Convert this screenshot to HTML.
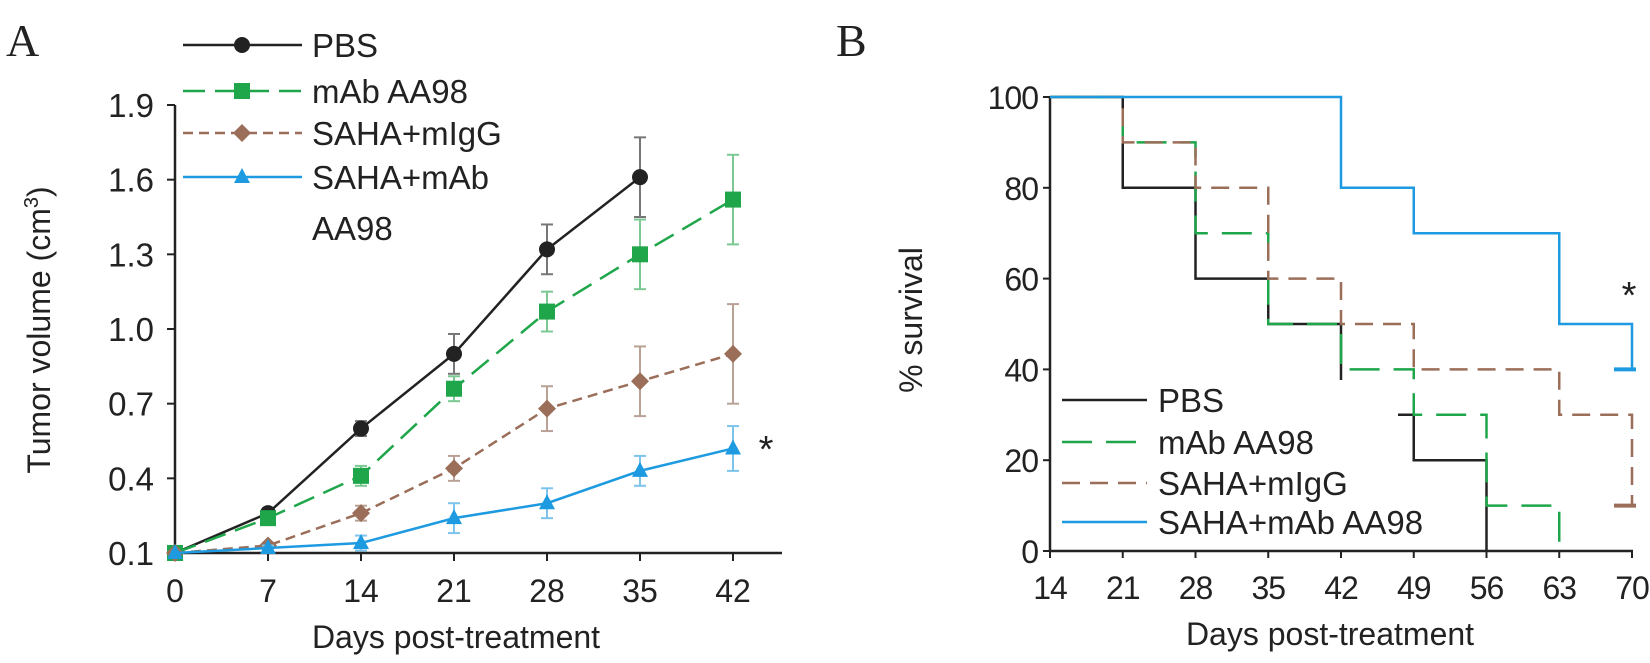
<!DOCTYPE html>
<html><head><meta charset="utf-8"><style>
body{margin:0;background:#fff;}
svg text{font-family:"Liberation Sans",sans-serif;fill:#222;}
</style></head><body>
<svg id="s" width="1650" height="658" viewBox="0 0 1650 658" xmlns="http://www.w3.org/2000/svg">
<text x="6" y="56" style="font-family:'Liberation Serif',serif;font-size:46px">A</text>
<text x="836" y="56" style="font-family:'Liberation Serif',serif;font-size:46px">B</text>
<g id="ga"></g>
<g id="gb"></g>
</svg>
<script>
const NS="http://www.w3.org/2000/svg";
const daysA=[0,7,14,21,28,35,42];
const yTicksA=[0.1,0.4,0.7,1.0,1.3,1.6,1.9];
const pbsVals=[0.1,0.26,0.6,0.9,1.32,1.61];
const pbsErr=[0,0.02,0.03,0.08,0.1,0.16];
const mabVals=[0.1,0.24,0.41,0.76,1.07,1.3,1.52];
const mabErr=[0,0.02,0.04,0.05,0.08,0.14,0.18];
const iggVals=[0.1,0.13,0.26,0.44,0.68,0.79,0.9];
const iggErr=[0,0.01,0.03,0.05,0.09,0.14,0.2];
const comboVals=[0.1,0.12,0.14,0.24,0.3,0.43,0.52];
const comboErr=[0,0.01,0.03,0.06,0.06,0.06,0.09];
const daysB=[14,21,28,35,42,49,56,63,70];
const yTicksB=[0,20,40,60,80,100];
const pbsSurvT=[14,21,28,35,42,49,56];
const pbsSurv=[100,80,60,50,30,20,0];
const mabSurvT=[14,21,28,35,42,49,56,63];
const mabSurv=[100,90,70,50,40,30,10,0];
const iggSurvT=[14,21,28,35,42,49,63,70];
const iggSurv=[100,90,80,60,50,40,30,10];
const comboSurvT=[14,42,49,63,70];
const comboSurv=[100,80,70,50,40];

function el(p,tag,attrs,txt){const e=document.createElementNS(NS,tag);for(const k in attrs)e.setAttribute(k,attrs[k]);if(txt!==undefined)e.textContent=txt;p.appendChild(e);return e;}

// Panel A
const ga=document.getElementById('ga');
const xA=d=>175+(d-0)/42*(733-175);
const yA=v=>553-(v-0.1)/1.8*(553-105);
let e;
e=el(ga,'line',{x1:175,y1:105,x2:175,y2:553,stroke:'#222','stroke-width':2.5});

e=el(ga,'line',{x1:175,y1:553,x2:782,y2:553,stroke:'#222','stroke-width':2.5});

yTicksA.forEach(t=>{
 el(ga,'line',{x1:167,y1:yA(t),x2:175,y2:yA(t),stroke:'#222','stroke-width':2});
 e=el(ga,'text',{x:154,y:yA(t)+12,'text-anchor':'end','font-size':33},t.toFixed(1));
 
});
daysA.forEach(d=>{
 el(ga,'line',{x1:xA(d),y1:553,x2:xA(d),y2:561,stroke:'#222','stroke-width':2});
 e=el(ga,'text',{x:xA(d),y:602,'text-anchor':'middle','font-size':32},d);
 
});
e=el(ga,'text',{x:456,y:648,'text-anchor':'middle','font-size':32},'Days post-treatment');

e=el(ga,'text',{x:0,y:0,'text-anchor':'middle','font-size':32,transform:'translate(50,330) rotate(-90)'});
e.innerHTML='Tumor volume (cm<tspan font-size="20" dy="-12">3</tspan><tspan dy="12">)</tspan>';


function marker(g,type,x,y,c){
 if(type==='circle')return el(g,'circle',{cx:x,cy:y,r:8,fill:c});
 if(type==='square')return el(g,'rect',{x:x-8,y:y-8,width:16,height:16,fill:c});
 if(type==='diamond')return el(g,'polygon',{points:`${x},${y-9} ${x+9},${y} ${x},${y+9} ${x-9},${y}`,fill:c});
 return el(g,'polygon',{points:`${x},${y-9} ${x+8},${y+6} ${x-8},${y+6}`,fill:c});
}
const seriesA=[
 {n:'pbs',v:pbsVals,e:pbsErr,c:'#222',ec:'#777',dash:'',m:'circle'},
 {n:'mab-aa98',v:mabVals,e:mabErr,c:'#1fa64a',ec:'#7cc893',dash:'22,10',m:'square'},
 {n:'saha-migg',v:iggVals,e:iggErr,c:'#9b6e5a',ec:'#b9a196',dash:'10,6',m:'diamond'},
 {n:'saha-mab-aa98',v:comboVals,e:comboErr,c:'#1e9be0',ec:'#7cc4ec',dash:'',m:'triangle'}];
seriesA.forEach(s=>{
 const g=el(ga,'g',{});
 
 s.v.forEach((v,i)=>{if(!s.e[i])return;const x=xA(daysA[i]);
  el(g,'line',{x1:x,y1:yA(v+s.e[i]),x2:x,y2:yA(v-s.e[i]),stroke:s.ec,'stroke-width':2});
  el(g,'line',{x1:x-6,y1:yA(v+s.e[i]),x2:x+6,y2:yA(v+s.e[i]),stroke:s.ec,'stroke-width':2});
  el(g,'line',{x1:x-6,y1:yA(v-s.e[i]),x2:x+6,y2:yA(v-s.e[i]),stroke:s.ec,'stroke-width':2});});
 const pts=s.v.map((v,i)=>xA(daysA[i])+','+yA(v)).join(' ');
 el(g,'polyline',{points:pts,fill:'none',stroke:s.c,'stroke-width':2.5,'stroke-dasharray':s.dash});
 s.v.forEach((v,i)=>{const m=marker(g,s.m,xA(daysA[i]),yA(v),s.c);
  });
});
e=el(ga,'text',{x:766,y:462,'text-anchor':'middle','font-size':38},'*');

const legA=[['PBS',45],['mAb AA98',91],['SAHA+mIgG',133],['SAHA+mAb',177]];
legA.forEach((l,i)=>{const s=seriesA[i];
 const g=el(ga,'g',{});
 el(g,'line',{x1:183,y1:l[1],x2:302,y2:l[1],stroke:s.c,'stroke-width':2.5,'stroke-dasharray':s.dash});
 marker(g,s.m,242,l[1],s.c);
 el(g,'text',{x:312,y:l[1]+12,'font-size':33},l[0]);});
e=el(ga,'text',{x:312,y:240,'font-size':33},'AA98');


// Panel B
const gb=document.getElementById('gb');
const xB=d=>1050+(d-14)/56*(1632-1050);
const yB=v=>551-v/100*(551-97);
e=el(gb,'line',{x1:1050,y1:97,x2:1050,y2:551,stroke:'#222','stroke-width':2.5});

e=el(gb,'line',{x1:1050,y1:551,x2:1633,y2:551,stroke:'#222','stroke-width':2.5});

yTicksB.forEach(t=>{
 el(gb,'line',{x1:1043,y1:yB(t),x2:1050,y2:yB(t),stroke:'#222','stroke-width':2});
 e=el(gb,'text',{x:1038,y:yB(t)+12,'text-anchor':'end','font-size':32,'letter-spacing':'-1'},t);
 
});
daysB.forEach(d=>{
 el(gb,'line',{x1:xB(d),y1:551,x2:xB(d),y2:558,stroke:'#222','stroke-width':2});
 e=el(gb,'text',{x:xB(d),y:599,'text-anchor':'middle','font-size':32,'letter-spacing':'-1'},d);
 
});
e=el(gb,'text',{x:1330,y:645,'text-anchor':'middle','font-size':32},'Days post-treatment');

e=el(gb,'text',{x:0,y:0,'text-anchor':'middle','font-size':32,transform:'translate(922,320) rotate(-90)'},'% survival');

const seriesB=[
 {n:'pbs',t:pbsSurvT,v:pbsSurv,c:'#222',dash:'',l:'PBS',end:null},
 {n:'mab-aa98',t:mabSurvT,v:mabSurv,c:'#1fa64a',dash:'30,14',l:'mAb AA98',end:null},
 {n:'saha-migg',t:iggSurvT,v:iggSurv,c:'#9b6e5a',dash:'18,10',l:'SAHA+mIgG',end:70},
 {n:'saha-mab-aa98',t:comboSurvT,v:comboSurv,c:'#1e9be0',dash:'',l:'SAHA+mAb AA98',end:70}];
seriesB.forEach(s=>{
 const g=el(gb,'g',{});
 let pts=[];
 for(let i=0;i<s.t.length;i++){
  pts.push(xB(s.t[i])+','+yB(i?s.v[i-1]:s.v[0]));
  pts.push(xB(s.t[i])+','+yB(s.v[i]));
 }
 el(g,'polyline',{points:pts.join(' '),fill:'none',stroke:s.c,'stroke-width':2.5,'stroke-dasharray':s.dash});
 if(s.end){const yv=yB(s.v[s.v.length-1]);
  el(g,'line',{x1:xB(s.end)-18,y1:yv,x2:xB(s.end)+4,y2:yv,stroke:s.c,'stroke-width':4});}
});
e=el(gb,'text',{x:1629,y:308,'text-anchor':'middle','font-size':38},'*');

const legBy=[400,442,483,522];
seriesB.forEach((s,i)=>{
 const g=el(gb,'g',{});
 el(g,'rect',{x:1058,y:legBy[i]-20,width:340,height:40,fill:'#fff'});
 el(g,'line',{x1:1062,y1:legBy[i],x2:1147,y2:legBy[i],stroke:s.c,'stroke-width':2.5,'stroke-dasharray':s.dash});
 el(g,'text',{x:1158,y:legBy[i]+12,'font-size':33},s.l);
});
</script>
</body></html>
